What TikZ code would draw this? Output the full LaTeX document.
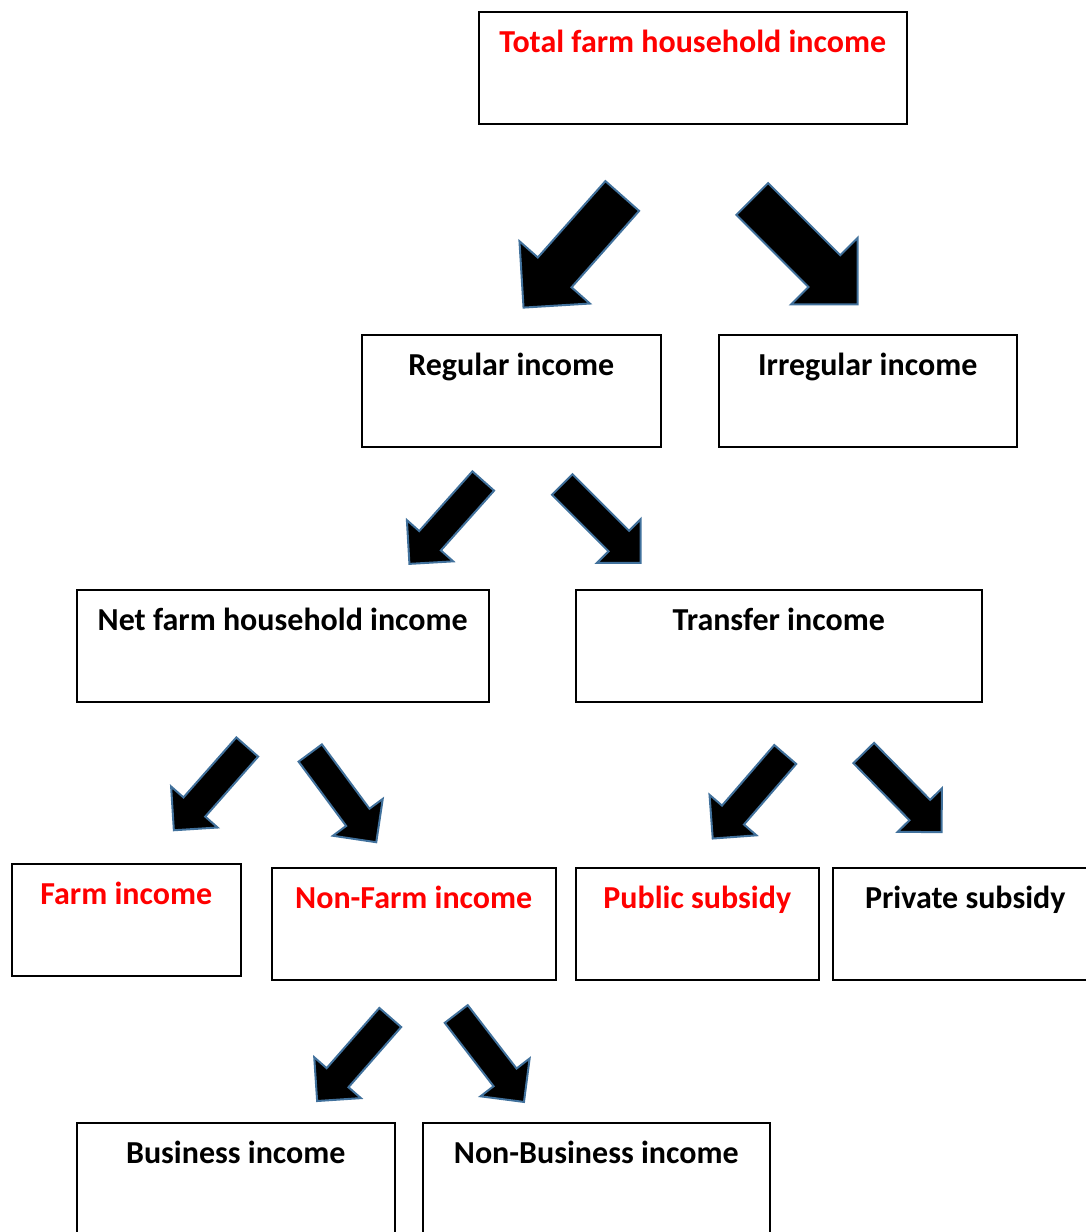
\documentclass[tikz,border=0pt]{standalone}
\usepackage{fontspec}
\setmainfont{Carlito}
\usetikzlibrary{positioning}
\definecolor{arrowblue}{HTML}{41719C}
\tikzstyle{incbox}=[draw, line width=1.5pt, inner sep=0pt, anchor=north west,
    text height=41pt, text depth=71pt, align=center,
    font=\fontsize{32}{38}\selectfont\bfseries]
\tikzstyle{keyinc}=[incbox, text=red]
\tikzstyle{arrowfill}=[fill=black, draw=arrowblue, line width=2pt, line join=miter]
\tikzset{
  bigarrow/.pic={\filldraw[arrowfill] (0,-22.5) -- (102,-22.5) -- (102,-47) -- (149,0)
      -- (102,47) -- (102,22.5) -- (0,22.5) -- cycle;},
  smallarrow/.pic={\filldraw[arrowfill] (0,-14.5) -- (80,-14.5) -- (80,-31) -- (111,0)
      -- (80,31) -- (80,14.5) -- (0,14.5) -- cycle;}
}

\begin{document}
\begin{tikzpicture}[x=1pt, y=1pt]
    \useasboundingbox (0,0) rectangle (1086,-1232);
    \node (total) [keyinc, minimum width=428pt] at (478,-11) {Total farm household income};
    \node (regular) [incbox, minimum width=299pt] at (361,-334) {Regular income};
    \node (irregular) [incbox, minimum width=298pt] at (718,-334) {Irregular income};
    \node (net) [incbox, minimum width=412pt] at (76,-589) {Net farm household income};
    \node (transfer) [incbox, minimum width=406pt] at (575,-589) {Transfer income};
    \node (farm) [keyinc, minimum width=229pt] at (11,-863) {Farm income};
    \node (nonfarm) [keyinc, minimum width=284pt] at (271,-867) {Non-Farm income};
    \node (public) [keyinc, minimum width=243pt] at (575,-867) {Public subsidy};
    \node (private) [incbox, minimum width=265pt] at (832,-867) {Private subsidy};
    \node (business) [incbox, minimum width=318pt] at (76,-1122) {Business income};
    \node (nonbusiness) [incbox, minimum width=347pt] at (422,-1122) {Non-Business income};
    \path (total.south)+(-70.5,-71.5) pic[rotate=-131.5] (totreg) {bigarrow};
    \path (total.south)+(59.5,-74.5) pic[rotate=-45] (totirr) {bigarrow};
    \path (regular.south)+(-28,-33.5) pic[rotate=-131.7] (regnet) {smallarrow};
    \path (regular.south)+(51,-37) pic[rotate=-45] (regtra) {smallarrow};
    \path (net.south)+(-35.5,-44.5) pic[rotate=-131.4] (netfarm) {smallarrow};
    \path (net.south)+(27.5,-50.5) pic[rotate=-53.5] (netnon) {smallarrow};
    \path (transfer.south)+(6.5,-52) pic[rotate=-130.8] (trapub) {smallarrow};
    \path (transfer.south)+(85,-50.5) pic[rotate=-45.5] (trapri) {smallarrow};
    \path (nonfarm.south)+(-23.5,-37) pic[rotate=-131.2] (nonbus) {smallarrow};
    \path (nonfarm.south)+(42.5,-33.5) pic[rotate=-52.4] (nonnbus) {smallarrow};
\end{tikzpicture}
\end{document}
